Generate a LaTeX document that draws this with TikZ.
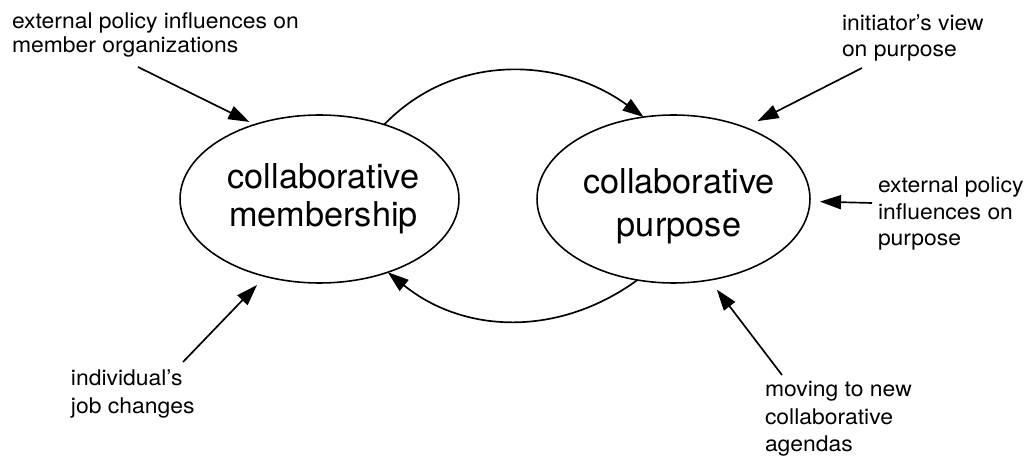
\documentclass[tikz,border=0pt]{standalone}
\usepackage{fontspec}
\setmainfont{TeX Gyre Heros}
\newfontfamily\notefont[FakeStretch=1.06]{TeX Gyre Heros}
\usetikzlibrary{arrows.meta,shapes.geometric}

% multi-line labels whose first baseline is the node's base
\newcommand\notelines[2]{\parbox[t]{6cm}{\raggedright\notefont\fontsize{12.3pt}{#1}\selectfont #2}}
\newcommand\titlelines[2]{\parbox[t]{6cm}{\centering\fontsize{19.5pt}{#1}\selectfont #2}}

\begin{document}
\begin{tikzpicture}[x=0.02cm,y=0.02cm,
  blob/.style={draw, ellipse, line width=0.9pt, minimum height=3.36cm,
               inner sep=0pt, outer sep=0pt},
  flow/.style={line width=0.95pt, -{Triangle[length=12pt,width=8pt]}},
  note/.style={anchor=base west, inner sep=0pt, outer sep=0pt},
  title/.style={anchor=base, inner sep=0pt, outer sep=0pt}]

\path[use as bounding box, fill=white] (0,0) rectangle (1032,-459);

% the two states
\node[blob, minimum width=5.58cm] (mem) at (319.5,-199) {};
\node[blob, minimum width=5.46cm] (pur) at (673.5,-199) {};
\node[title] (memtext) at (323.5,-188.3) {\titlelines{21.8pt}{collaborative\\membership}};
\node[title] (purtext) at (679,-193.3) {\titlelines{24.6pt}{collaborative\\purpose}};

% mutual influence between membership and purpose
\draw[flow] (mem.49.5) to[out=46,in=144] (pur.110.7);
\draw[flow] (pur.246.3) to[out=216,in=321] (mem.313);

% outside influences
\node[note] (tl) at (12,-29) {\notelines{13.6pt}{external policy influences on\\member organizations}};
\node[note] (tr) at (842,-31) {\notelines{14.7pt}{initiator’s view\\on purpose}};
\node[note] (rt) at (878,-193) {\notelines{15pt}{external policy\\influences on\\purpose}};
\node[note] (bl) at (71,-386) {\notelines{15.6pt}{individual’s\\job changes}};
\node[note] (br) at (765,-397) {\notelines{15.4pt}{moving to new\\collaborative\\agendas}};

\coordinate (tlTail) at (138,-67);
\coordinate (trTail) at (862,-68);
\coordinate (rtTail) at (872,-203);
\coordinate (blTail) at (183,-362);
\coordinate (brTail) at (782,-375);

\draw[flow, shorten >=0.12cm] (tlTail) -- (mem.131.5);
\draw[flow, shorten >=0.28cm] (trTail) -- (pur.45.6);
\draw[flow, shorten >=0.2cm]  (rtTail) -- (pur.-1.7);
\draw[flow, shorten >=0.24cm] (blTail) -- (mem.235.3);
\draw[flow, shorten >=0.24cm] (brTail) -- (pur.294);
\end{tikzpicture}
\end{document}
